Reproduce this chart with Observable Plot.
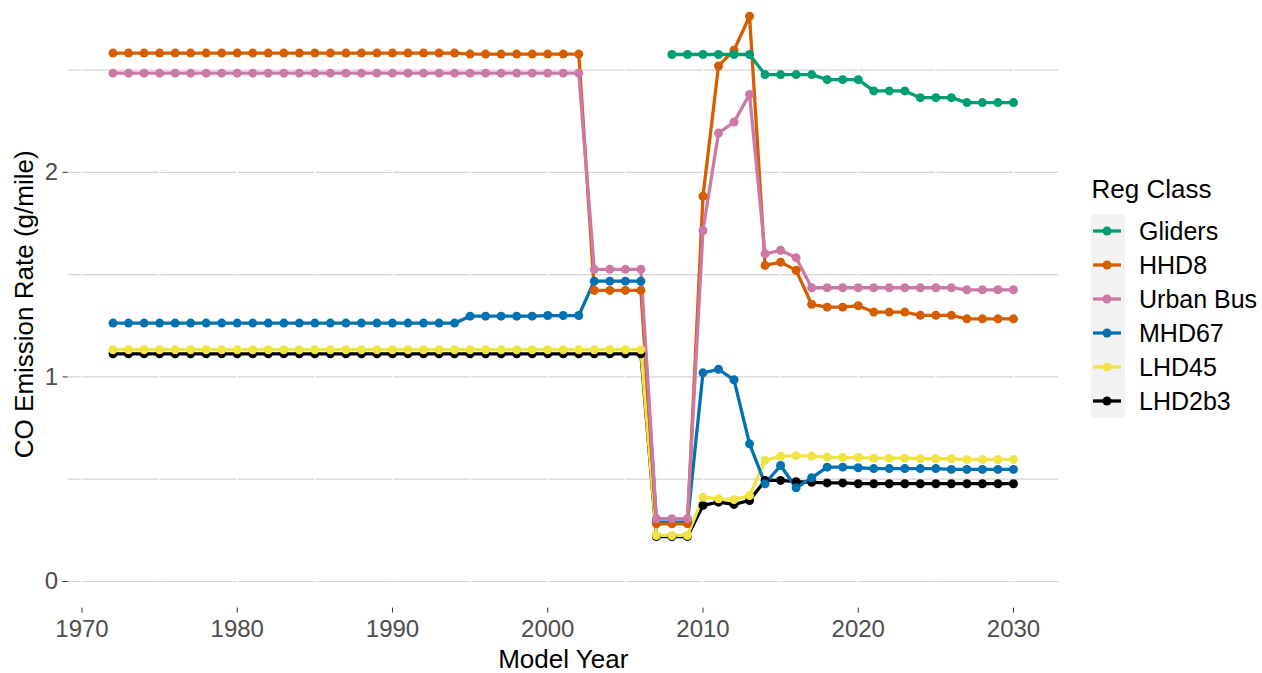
<!DOCTYPE html>
<html>
<head>
<meta charset="utf-8">
<script src="https://cdn.jsdelivr.net/npm/d3@7"></script>
<script src="https://cdn.jsdelivr.net/npm/@observablehq/plot@0.6"></script>
<style>
  body { margin: 0; background: #fff; }
  #wrap { position: relative; width: 1262px; height: 673px; font-family: "Liberation Sans", Arial, sans-serif; }
  #legend { position: absolute; left: 1080px; top: 150px; }
</style>
</head>
<body>
<div id="wrap"><div id="chart"></div><div id="legend"></div></div>
<script>
// ---- data ----
const years = [1972,1973,1974,1975,1976,1977,1978,1979,1980,1981,1982,1983,1984,1985,1986,1987,1988,1989,1990,1991,1992,1993,1994,1995,1996,1997,1998,1999,2000,2001,2002,2003,2004,2005,2006,2007,2008,2009,2010,2011,2012,2013,2014,2015,2016,2017,2018,2019,2020,2021,2022,2023,2024,2025,2026,2027,2028,2029,2030];
const gliderYears = [2008,2009,2010,2011,2012,2013,2014,2015,2016,2017,2018,2019,2020,2021,2022,2023,2024,2025,2026,2027,2028,2029,2030];

const classes = ["Gliders", "HHD8", "Urban Bus", "MHD67", "LHD45", "LHD2b3"];
const colors = ["#009E73", "#D55E00", "#CC79A7", "#0072B2", "#F0E442", "#000000"];

const gliders = [2.576,2.576,2.576,2.576,2.576,2.576,2.478,2.478,2.478,2.478,2.453,2.453,2.453,2.398,2.398,2.398,2.365,2.365,2.365,2.341,2.341,2.341,2.341];
const hhd8 = [2.583,2.583,2.583,2.583,2.583,2.583,2.583,2.583,2.583,2.583,2.583,2.583,2.583,2.583,2.583,2.583,2.583,2.583,2.583,2.583,2.583,2.583,2.583,
  2.578,2.578,2.578,2.578,2.578,2.578,2.578,2.578,
  1.423,1.423,1.423,1.423, 0.282,0.282,0.282,
  1.883,2.52,2.597,2.763, 1.545,1.561,1.521,
  1.355,1.341,1.341,1.348, 1.317,1.317,1.317, 1.301,1.301,1.301, 1.284,1.284,1.284,1.284];
const urbanBus = [2.485,2.485,2.485,2.485,2.485,2.485,2.485,2.485,2.485,2.485,2.485,2.485,2.485,2.485,2.485,2.485,2.485,2.485,2.485,2.485,2.485,2.485,2.485,2.485,2.485,2.485,2.485,2.485,2.485,2.485,2.485,
  1.526,1.526,1.526,1.526, 0.307,0.307,0.307,
  1.716,2.192,2.246,2.381, 1.602,1.619,1.583,
  1.436,1.436,1.436,1.436,1.436,1.436,1.436,1.436,1.436,1.436, 1.426,1.426,1.426,1.426];
const mhd67 = [1.263,1.263,1.263,1.263,1.263,1.263,1.263,1.263,1.263,1.263,1.263,1.263,1.263,1.263,1.263,1.263,1.263,1.263,1.263,1.263,1.263,1.263,1.263,
  1.297,1.297,1.297,1.297,1.297, 1.300,1.300,1.300,
  1.468,1.468,1.468,1.468, 0.29,0.29,0.29,
  1.02,1.037,0.986,0.673, 0.478,0.567,0.458,0.507,
  0.559,0.559,0.556, 0.552,0.552,0.552,0.552,0.552, 0.548,0.548,0.548,0.548,0.548];
const lhd45 = [1.133,1.133,1.133,1.133,1.133,1.133,1.133,1.133,1.133,1.133,1.133,1.133,1.133,1.133,1.133,1.133,1.133,1.133,1.133,1.133,1.133,1.133,1.133,1.133,1.133,1.133,1.133,1.133,1.133,1.133,1.133,1.133,1.133,1.133,1.133,
  0.225,0.225,0.225,
  0.412,0.404,0.40,0.42, 0.592,0.612,0.615,0.613,
  0.608,0.606,0.606, 0.603,0.603,0.603, 0.6,0.6,0.6, 0.596,0.596,0.596,0.596];
const lhd2b3 = [1.113,1.113,1.113,1.113,1.113,1.113,1.113,1.113,1.113,1.113,1.113,1.113,1.113,1.113,1.113,1.113,1.113,1.113,1.113,1.113,1.113,1.113,1.113,1.113,1.113,1.113,1.113,1.113,1.113,1.113,1.113,1.113,1.113,1.113,1.113,
  0.22,0.22,0.22,
  0.372,0.388,0.377,0.396, 0.494,0.494,0.488,0.485,
  0.482,0.482, 0.478,0.478,0.478,0.478,0.478,0.478,0.478,0.478,0.478,0.478,0.478];

const yTicks = [0, 1, 2];
const yGrid = [0, 0.5, 1, 1.5, 2, 2.5];
const xTicks = [1970, 1980, 1990, 2000, 2010, 2020, 2030];
const xGrid = [1970, 1975, 1980, 1985, 1990, 1995, 2000, 2005, 2010, 2015, 2020, 2025, 2030];

// draw order (bottom -> top)
const drawOrder = [
  ["LHD2b3", years, lhd2b3],
  ["LHD45", years, lhd45],
  ["MHD67", years, mhd67],
  ["HHD8", years, hhd8],
  ["Urban Bus", years, urbanBus],
  ["Gliders", gliderYears, gliders]
];
const data = drawOrder.flatMap(([cls, ys, vs]) => ys.map((yr, i) => ({cls, year: yr, value: vs[i]})));

const font = '"Liberation Sans", Arial, sans-serif';

const chart = Plot.plot({
  width: 1262,
  height: 673,
  marginLeft: 67.5,
  marginRight: 204,
  marginTop: 0,
  marginBottom: 65.4,
  style: {fontFamily: font, fontSize: "24px", color: "#4D4D4D", background: "transparent"},
  x: {domain: [1969.1, 2032.9]},
  y: {domain: [-0.13, 2.84]},
  color: {domain: classes, range: colors},
  marks: [
    Plot.ruleY(yGrid, {stroke: "#d4d4d4", strokeWidth: 1.2}),
    Plot.ruleX(xGrid, {stroke: "#ffffff", strokeWidth: 1.5}),
    Plot.axisX({ticks: xTicks, tickFormat: "d", tickSize: 5, tickPadding: 7, stroke: "#333", fill: "#4D4D4D", fontSize: 24, label: null}),
    Plot.axisY({ticks: yTicks, tickFormat: "d", tickSize: 5, tickPadding: 5, stroke: "#333", fill: "#4D4D4D", fontSize: 24, label: null}),
    Plot.line(data, {x: "year", y: "value", z: "cls", stroke: "cls", strokeWidth: 3.3, curve: "linear"}),
    Plot.dot(data, {x: "year", y: "value", fill: "cls", r: 4.5}),
    Plot.text(["Model Year"], {frameAnchor: "bottom", dy: 52, fontSize: 26, fill: "#000", lineAnchor: "middle", textAnchor: "middle"}),
    Plot.text(["CO Emission Rate (g/mile)"], {frameAnchor: "left", dx: -43.5, rotate: -90, fontSize: 26, fill: "#000", lineAnchor: "middle", textAnchor: "middle"})
  ]
});
document.getElementById("chart").appendChild(chart);

// legend
const lg = d3.select("#legend").append("svg").attr("width", 182).attr("height", 300)
  .style("font-family", font);
lg.append("text").attr("x", 11.5).attr("y", 48).attr("font-size", 26).attr("fill", "#000").text("Reg Class");
lg.append("rect").attr("x", 11).attr("y", 64).attr("width", 34).attr("height", 204).attr("fill", "#F2F2F2");
classes.forEach((c, i) => {
  const cy = 81 + 34 * i;
  lg.append("line").attr("x1", 13).attr("x2", 41).attr("y1", cy).attr("y2", cy)
    .attr("stroke", colors[i]).attr("stroke-width", 3.3);
  lg.append("circle").attr("cx", 27).attr("cy", cy).attr("r", 4.5).attr("fill", colors[i]);
  lg.append("text").attr("x", 59).attr("y", cy).attr("dy", "0.36em").attr("font-size", 25).attr("fill", "#000").text(c);
});
</script>
</body>
</html>
